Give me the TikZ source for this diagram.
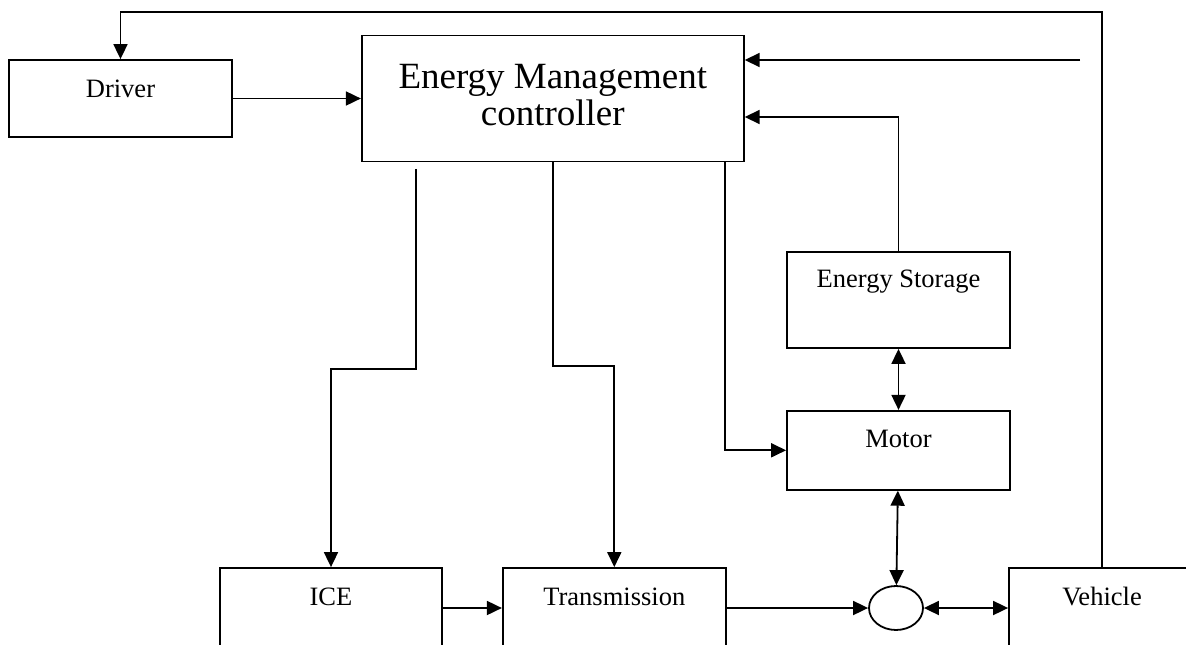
\documentclass[tikz,border=0pt]{standalone}
\usepackage{fontspec}
\setmainfont{Liberation Serif}
\usetikzlibrary{arrows.meta,positioning,shapes.geometric}

\begin{document}
\begin{tikzpicture}[x=1pt, y=-1pt,
  box/.style={draw, line width=1.8pt, inner sep=0pt},
  unit/.style={box, text height=17.5pt, font=\fontsize{26.5}{30}\selectfont},
  ctrl/.style={box, align=center, font=\fontsize{37}{37}\selectfont},
  junction/.style={draw, ellipse, line width=1.8pt, minimum width=54pt, minimum height=44pt, inner sep=0pt},
  arr/.style={-{Triangle[length=15pt,width=14pt]}, line width=1.8pt},
  both/.style={{Triangle[length=15pt,width=14pt]}-{Triangle[length=15pt,width=14pt]}, line width=1.8pt}
]
  \useasboundingbox (0,0) rectangle (1186,645);
  \clip (0,0) rectangle (1186,645);

  \node[unit, minimum width=223pt, minimum height=77pt, text depth=19.9pt] (drv) at (120.5,98.5) {Driver};
  \node[ctrl, right=128pt of drv, minimum width=382pt, minimum height=126pt, text depth=7.5pt] (emc) {Energy Management\\controller};

  \node[unit, minimum width=223pt, minimum height=96pt, text depth=42.1pt] (store) at (898.5,300) {Energy Storage};
  \node[unit, below=61pt of store, minimum width=223pt, minimum height=79pt, text depth=23.9pt] (motor) {Motor};

  \node[unit, minimum width=222pt, minimum height=120pt, text depth=63.5pt] (ice) at (331,628) {ICE};
  \node[unit, right=59pt of ice, minimum width=223pt, minimum height=120pt, text depth=63.5pt] (trans) {Transmission};
  \node[junction] (junc) at (896,608) {};
  \node[unit, minimum width=186pt, minimum height=120pt, text depth=63.5pt] (veh) at (1102,628) {Vehicle};

  \coordinate (topline) at (0,12);
  \coordinate (fb) at (1080,60);

  \draw[arr] (veh.north) -- (veh.north |- topline) -| (drv.north);
  \draw[arr] (drv) -- (emc);
  \draw[arr] (fb) -- (fb -| emc.east);
  \draw[arr] (store.north) |- ([yshift=-18.5pt]emc.east);

  \draw[arr] ([xshift=-137pt, yshift=-6.5pt]emc.south) -- ++(0,200) -| (ice.north);
  \draw[arr] (emc.south) -- ++(0,203.5) -| (trans.north);
  \draw[arr] ([xshift=172pt]emc.south) |- (motor.west);

  \draw[both] (store) -- (motor);
  \draw[both] (motor) -- (junc);
  \draw[arr] (ice.east |- junc) -- (trans.west |- junc);
  \draw[arr] (trans.east |- junc) -- (junc.west);
  \draw[both] (junc.east) -- (junc.east -| veh.west);
\end{tikzpicture}
\end{document}
